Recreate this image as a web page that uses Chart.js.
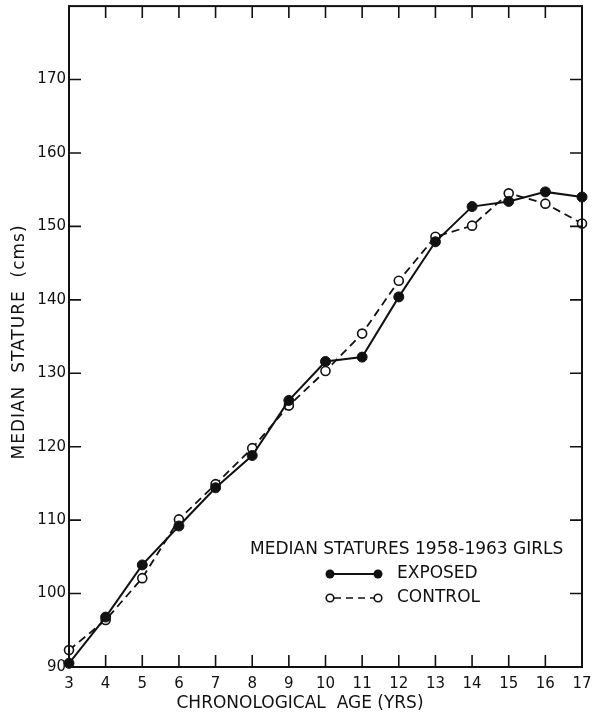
<!DOCTYPE html>
<html>
<head>
<meta charset="utf-8">
<script src="https://cdn.jsdelivr.net/npm/chart.js@4.4.1/dist/chart.umd.min.js"></script>
<style>
    html, body { margin: 0; padding: 0; background: #fff; }
    #wrap { position: relative; width: 595px; height: 720px; }
</style>
</head>
<body>
<div id="wrap"><canvas id="statureChart" width="595" height="720"></canvas></div>
<script>
// Chronological age (years)
const ages = [3, 4, 5, 6, 7, 8, 9, 10, 11, 12, 13, 14, 15, 16, 17];
// Median stature (cms)
const exposed = [90.5, 96.8, 103.9, 109.2, 114.4, 118.8, 126.3, 131.6, 132.2, 140.4, 147.9, 152.7, 153.4, 154.7, 154.0];
const control = [92.3, 96.4, 102.1, 110.1, 114.9, 119.8, 125.6, 130.3, 135.4, 142.6, 148.6, 150.1, 154.5, 153.1, 150.4];
const yTicks = [90, 100, 110, 120, 130, 140, 150, 160, 170];

const FONT = "'DejaVu Sans', sans-serif";
const INK = '#111';

// frame, inward ticks, axis titles and the hand-lettered key
const framePlugin = {
    id: 'frame',
    afterDraw(chart) {
        const { ctx, chartArea: a, scales } = chart;
        const xs = scales.x, ys = scales.y;
        ctx.save();
        ctx.strokeStyle = INK;
        ctx.lineWidth = 2;
        ctx.strokeRect(a.left, a.top, a.right - a.left, a.bottom - a.top);

        ctx.lineWidth = 1.6;
        ctx.beginPath();
        ages.forEach(v => {
            if (v === 3 || v === 17) return;
            const px = xs.getPixelForValue(v);
            ctx.moveTo(px, a.bottom); ctx.lineTo(px, a.bottom - 12);
            ctx.moveTo(px, a.top); ctx.lineTo(px, a.top + 12);
        });
        yTicks.forEach(v => {
            if (v === 90) return;
            const py = ys.getPixelForValue(v);
            ctx.moveTo(a.left, py); ctx.lineTo(a.left + 12, py);
            ctx.moveTo(a.right, py); ctx.lineTo(a.right - 12, py);
        });
        ctx.stroke();

        ctx.fillStyle = INK;
        ctx.font = '17px ' + FONT;
        ctx.textAlign = 'center';
        ctx.textBaseline = 'middle';
        ctx.fillText('CHRONOLOGICAL  AGE (YRS)', 300, 704);

        ctx.save();
        ctx.translate(20, 342);
        ctx.rotate(-Math.PI / 2);
        ctx.letterSpacing = '1px';
        ctx.fillText('MEDIAN  STATURE  (cms)', 0, 0);
        ctx.restore();

        // key
        ctx.textAlign = 'left';
        ctx.fillText('MEDIAN STATURES 1958-1963 GIRLS', 250, 550);
        ctx.fillText('EXPOSED', 397, 574);
        ctx.fillText('CONTROL', 397, 598);

        ctx.lineWidth = 2;
        ctx.beginPath(); ctx.moveTo(330, 574); ctx.lineTo(378, 574); ctx.stroke();
        [330, 378].forEach(x => {
            ctx.beginPath(); ctx.arc(x, 574, 4.5, 0, Math.PI * 2); ctx.fill();
        });
        ctx.lineWidth = 1.6;
        ctx.setLineDash([7, 5]);
        ctx.beginPath(); ctx.moveTo(334, 598); ctx.lineTo(374, 598); ctx.stroke();
        ctx.setLineDash([]);
        [330, 378].forEach(x => {
            ctx.beginPath(); ctx.arc(x, 598, 3.8, 0, Math.PI * 2);
            ctx.fillStyle = '#fff'; ctx.fill(); ctx.stroke();
        });
        ctx.restore();
    }
};

const ctx = document.getElementById('statureChart').getContext('2d');
new Chart(ctx, {
    type: 'line',
    data: {
        datasets: [
            {
                label: 'EXPOSED',
                data: ages.map((a, i) => ({ x: a, y: exposed[i] })),
                borderColor: INK, borderWidth: 2,
                pointRadius: 5, pointBackgroundColor: INK, pointBorderColor: INK, pointBorderWidth: 1,
                tension: 0, clip: false
            },
            {
                label: 'CONTROL',
                data: ages.map((a, i) => ({ x: a, y: control[i] })),
                borderColor: INK, borderWidth: 1.8, borderDash: [8, 5],
                pointRadius: 4.5, pointBackgroundColor: '#fff', pointBorderColor: INK, pointBorderWidth: 1.6,
                tension: 0, clip: false
            }
        ]
    },
    options: {
        responsive: false,
        animation: false,
        layout: { padding: { left: 0, right: 13, top: 6, bottom: 0 } },
        plugins: { legend: { display: false }, tooltip: { enabled: false } },
        scales: {
            x: {
                type: 'linear', min: 3, max: 17,
                afterFit: s => { s.height = 53; s.paddingLeft = 0; s.paddingRight = 0; },
                afterBuildTicks: s => { s.ticks = ages.map(v => ({ value: v })); },
                grid: { display: false, drawTicks: false },
                border: { display: false },
                ticks: { color: INK, font: { family: FONT, size: 15 }, padding: 8, maxRotation: 0, autoSkip: false }
            },
            y: {
                min: 90, max: 180,
                afterFit: s => { s.width = 69; s.paddingTop = 0; s.paddingBottom = 0; },
                afterBuildTicks: s => { s.ticks = yTicks.map(v => ({ value: v })); },
                grid: { display: false, drawTicks: false },
                border: { display: false },
                ticks: { color: INK, font: { family: FONT, size: 15 }, padding: 3 }
            }
        }
    },
    plugins: [framePlugin]
});
</script>
</body>
</html>
